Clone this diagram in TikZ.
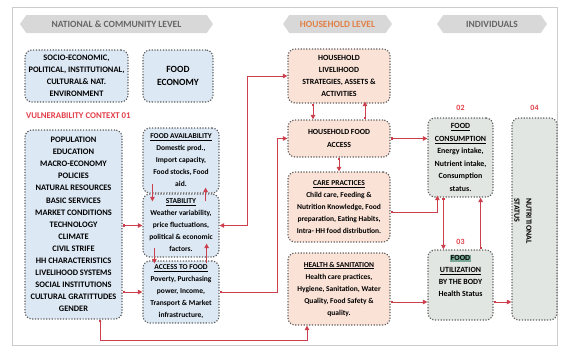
\documentclass[tikz,border=0pt]{standalone}
\usepackage{fontspec}
\setmainfont{Carlito}
\usetikzlibrary{arrows.meta,shapes.symbols,calc}
\definecolor{arrred}{RGB}{204,64,78}
\definecolor{vulred}{RGB}{226,62,72}
\definecolor{bluefill}{RGB}{220,232,244}
\definecolor{peachfill}{RGB}{250,226,214}
\definecolor{greyfill}{RGB}{226,230,226}
\definecolor{bordergrey}{RGB}{95,95,95}
\definecolor{bannerfill}{RGB}{216,216,216}
\definecolor{hhorange}{RGB}{226,128,70}
\definecolor{hlgreen}{RGB}{120,168,148}
\newcommand{\fs}[2]{\fontsize{#1}{#2}\selectfont\bfseries}
\begin{document}
\begin{tikzpicture}[x=1pt,y=-1pt,
  box/.style={draw=bordergrey, line width=1.2pt, dash pattern=on 1.2pt off 1.6pt,
    rounded corners=7pt, align=center, inner sep=0pt,
    font=\fs{7.5}{12}, text=black},
  sized/.style 2 args={minimum width=#1pt, minimum height=#2pt},
  natbox/.style={box, fill=bluefill},
  hhbox/.style={box, fill=peachfill},
  indbox/.style={box, fill=greyfill},
  banner/.style={signal, signal to=east and west, signal pointer angle=110,
    fill=bannerfill, draw=none, inner sep=0pt, font=\fs{9.5}{11}},
  redlabel/.style={text=vulred, font=\fs{8}{9}, inner sep=0pt},
  arr/.style={draw=arrred, line width=1pt, -{Triangle[length=4.5pt,width=4.5pt]}},
  arrs/.style={draw=arrred, line width=1pt, {Square[length=2.2pt]}-{Triangle[length=4.5pt,width=4.5pt]}},
  arrb/.style={draw=arrred, line width=1pt, {Triangle[length=4.5pt,width=4.5pt]}-{Triangle[length=4.5pt,width=4.5pt]}}
]
\useasboundingbox (0,0) rectangle (565,349);
\draw[black!20, line width=0.6pt] (12,7) rectangle (557,345);

% banners
\node[banner, sized={193}{18}, text=black!60] (bnat) at (116.5,24) {NATIONAL \& COMMUNITY LEVEL};
\node[banner, sized={109}{18}, text=hhorange] (bhh) at (337.5,24) {HOUSEHOLD LEVEL};
\node[banner, sized={110}{18}, text=black!60] (bind) at (492,24) {INDIVIDUALS};

% national & community
\node[natbox, sized={103}{52}, font=\fs{8.4}{12}] (socio) at (76.5,76) {SOCIO-ECONOMIC,\\POLITICAL, INSTITUTIONAL,\\CULTURAL\& NAT.\\ENVIRONMENT};
\node[natbox, sized={70}{52}, font=\fs{9.5}{13}] (foodeco) at (178,76) {FOOD\\ECONOMY};
\node[redlabel, anchor=west, font=\fs{8.8}{10}] (vul) at (26,116) {VULNERABILITY CONTEXT 01};
\node[natbox, sized={97}{189}, font=\fs{8.4}{12.1}] (bigbox) at (73.5,224.5)
 {POPULATION\\EDUCATION\\MACRO-ECONOMY\\POLICIES\\NATURAL RESOURCES\\BASIC SERVICES\\MARKET CONDITIONS\\TECHNOLOGY\\CLIMATE\\CIVIL STRIFE\\HH CHARACTERISTICS\\LIVELIHOOD SYSTEMS\\SOCIAL INSTITUTIONS\\CULTURAL GRATITTUDES\\GENDER};
\node[natbox, sized={76}{65}] (avail) at (181,160.5) {\underline{FOOD AVAILABILITY}\\Domestic prod.,\\Import capacity,\\Food stocks, Food\\aid.};
\node[natbox, sized={76}{63}] (stab) at (181,225.5) {\underline{STABILITY}\\Weather variability,\\price fluctuations,\\political \& economic\\factors.};
\node[natbox, sized={76}{62}] (access) at (181,292) {\underline{ACCESS TO FOOD}\\Poverty, Purchasing\\power, Income,\\Transport \& Market\\infrastructure,};

% household
\node[hhbox, sized={102}{54}, font=\fs{7.9}{12}] (liveli) at (339,76) {HOUSEHOLD\\LIVELIHOOD\\STRATEGIES, ASSETS \&\\ACTIVITIES};
\node[hhbox, sized={102}{37}, font=\fs{7.8}{12.5}] (hhaccess) at (339,138.5) {HOUSEHOLD FOOD\\ACCESS};
\node[hhbox, sized={102}{70}] (care) at (339,207) {\underline{CARE PRACTICES}\\Child care, Feeding \&\\Nutrition Knowledge, Food\\preparation, Eating Habits,\\Intra- HH food distribution.};
\node[hhbox, sized={102}{72}] (health) at (339,289) {\underline{HEALTH \& SANITATION}\\Health care practices,\\Hygiene, Sanitation, Water\\Quality, Food Safety \&\\quality.};

% individuals
\node[redlabel] (l02) at (460.5,108) {02};
\node[redlabel] (l03) at (460.5,242) {03};
\node[redlabel] (l04) at (534.5,108) {04};
\node[indbox, sized={65}{79}, font=\fs{7.9}{12.5}] (cons) at (460.5,157.5) {\underline{FOOD}\\\underline{CONSUMPTION}\\Energy intake,\\Nutrient intake,\\Consumption\\status.};
\node[indbox, sized={65}{70}, font=\fs{7.9}{12}] (util) at (460.5,285) {{\setlength{\fboxsep}{0.6pt}\colorbox{hlgreen}{FOOD}}\\\underline{UTILIZATION}\\BY THE BODY\\Health Status\\[6pt]\mbox{}};
\node[indbox, sized={45}{202}] (nut) at (534.5,219) {};
\node[rotate=-90, align=left, inner sep=0pt, font=\fs{7.9}{12}, text=black] (nuttext) at (523,221) {NUTRITIONAL\\STATUS};

% connectors
\draw[arrs] (bigbox.east |- stab.west) -- (stab.west);
\draw[arrs] (bigbox.east |- access.west) -- (access.west);
\draw[arrb] (stab.east) -- ++(28,0) |- (liveli.west);
\draw[arrs] (access.east) -- ++(58,0) |- (hhaccess.west);
\draw[arrs] ($(bigbox.south)+(26.5,0)$) -- ++(0,21) -| ($(health.south)+(-32,0)$);
\draw[arr] ($(avail.south west)+(10,-10)$) -- ($(stab.north west)+(10,8)$);
\draw[arr] ($(stab.north east)+(-14,8)$) -- ($(avail.south east)+(-14,-6)$);
\draw[arr] ($(stab.south west)+(12,-10)$) -- ($(access.north west)+(12,3)$);
\draw[arr] ($(access.north east)+(-13,3)$) -- ($(stab.south east)+(-13,-14)$);
\draw[arrs] ($(liveli.south)+(-26,0)$) -- ($(hhaccess.north)+(-26,0)$);
\draw[arrs] ($(hhaccess.north)+(26,0)$) -- ($(liveli.south)+(26,-2)$);
\draw[arrs] (hhaccess.south) -- (care.north);
\draw[arrs] (hhaccess.east) -- (hhaccess.east -| cons.west);
\draw[arrs] ($(care.east)+(0,5)$) -| ($(cons.south west)+(10,-2)$);
\draw[arrs] ($(cons.south west)+(16,0)$) -- ($(util.north west)+(16,0)$);
\draw[arrs] ($(util.north east)+(-13,0)$) -- ($(cons.south east)+(-13,0)$);
\draw[arrs] ($(health.east)+(0,13)$) coordinate (hout) -- (hout -| util.west);
\draw[arrs] (util.east |- hout) -- (hout -| nut.west);
\end{tikzpicture}
\end{document}
